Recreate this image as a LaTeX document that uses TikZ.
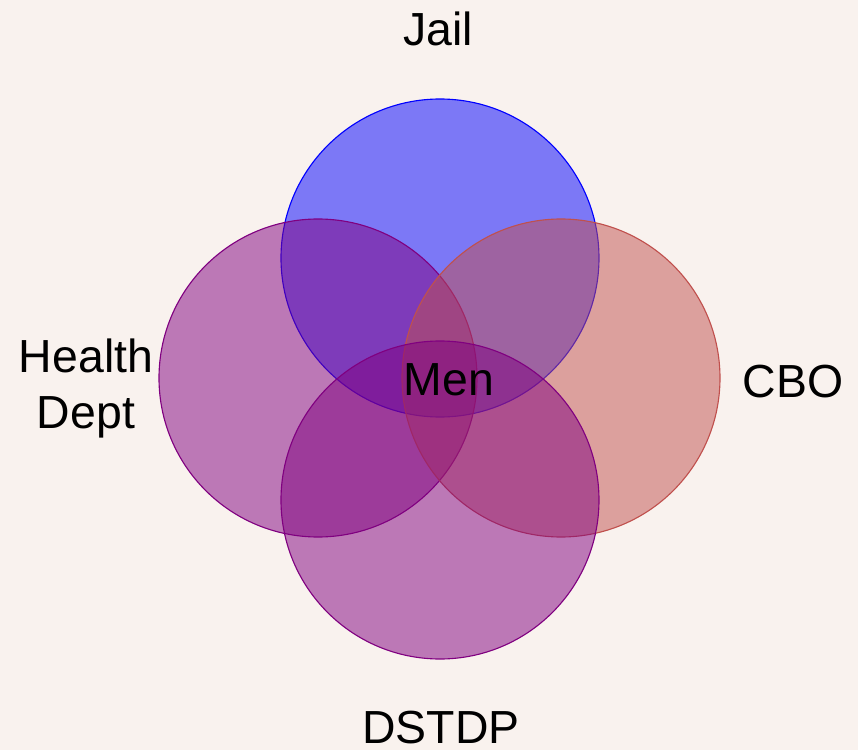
\documentclass[tikz,border=0pt]{standalone}
\usepackage{fontspec}
\setmainfont{Liberation Sans}
\definecolor{bgpaper}{RGB}{249,242,238}
\definecolor{jailblue}{RGB}{0,0,255}
\definecolor{deptpurple}{RGB}{128,0,128}
\definecolor{cbored}{RGB}{192,80,77}
\tikzset{
  venn/.style={line width=0.8pt,fill opacity=0.5,draw opacity=1},
  lbl/.style={anchor=base,inner sep=0pt,font=\fontsize{33}{40}\selectfont,align=center}
}
\begin{document}
\begin{tikzpicture}[x=0.025cm,y=-0.025cm]
\fill[bgpaper] (0,0) rectangle (858,750);
\useasboundingbox (0,0) rectangle (858,750);

% the four circles
\filldraw[venn,draw=jailblue,fill=jailblue] (440,258) circle (159);
\filldraw[venn,draw=deptpurple,fill=deptpurple] (318,378) circle (159);
\filldraw[venn,draw=cbored,fill=cbored] (561,378) circle (159);
\filldraw[venn,draw=deptpurple,fill=deptpurple] (440,500) circle (159);

% labels
\node[lbl] (jail) at (438,45) {Jail};
\node[lbl] (health) at (86,372) {Health};
\node[lbl] (dept) at (86,428) {Dept};
\node[lbl] (cbo) at (793,397) {CBO};
\node[lbl] (dstdp) at (441,743) {DSTDP};
\node[lbl] (men) at (449,395) {Men};
\end{tikzpicture}
\end{document}
